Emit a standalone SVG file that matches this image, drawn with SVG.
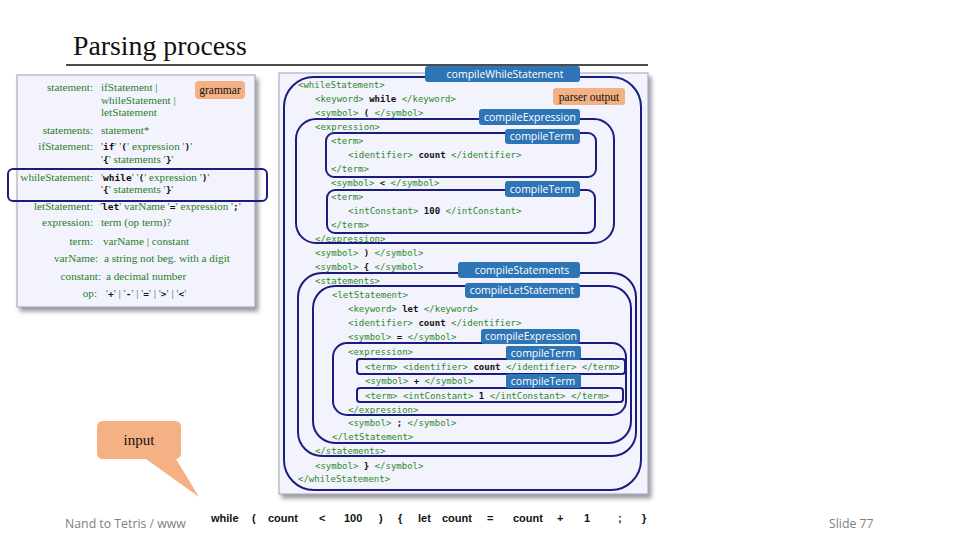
<svg xmlns="http://www.w3.org/2000/svg" width="960" height="540" viewBox="0 0 960 540">
<defs>
<filter id="sh" x="-5%" y="-5%" width="115%" height="115%">
<feDropShadow dx="3" dy="4" stdDeviation="2" flood-color="#555566" flood-opacity="0.6"/>
</filter>
</defs>
<style>
.panel{fill:#f3f3fd;stroke:#a0a0b8;stroke-width:1}
.g{font-family:"Liberation Serif",serif;font-size:11.2px;fill:#2b7d2b}
.gl{text-anchor:end}
.m{font-family:"DejaVu Sans Mono",monospace;font-weight:bold;fill:#111;font-size:9.5px}
.x{font-family:"DejaVu Sans Mono",monospace;font-size:9px;fill:#2a8a2a}
.v{fill:#111;font-weight:bold}
.box{fill:none;stroke:#1c1c80;stroke-width:2}
.lbl rect{fill:#2e75b6}
.lbl text{font-family:"Open Sans",sans-serif;font-size:10.5px;fill:#fff;text-anchor:middle}
.tag rect{fill:#f4b183}
.tag text{font-family:"Liberation Serif",serif;font-size:11.5px;fill:#111;text-anchor:middle}
.in{font-family:"Liberation Sans",sans-serif;font-weight:bold;font-size:11px;fill:#111}
.ft{font-family:"Open Sans",sans-serif;font-size:12.3px;fill:#808080}
</style>
<rect width="960" height="540" fill="#fff"/>

<g id="title">
<text x="73" y="55" font-family="Liberation Serif" font-size="27.8" fill="#111">Parsing process</text>
<line x1="66" y1="65" x2="648" y2="65" stroke="#111" stroke-width="1.3"/>
</g>

<g id="footer">
<text class="ft" x="65" y="528">Nand to Tetris / www</text>
<text class="ft" x="829" y="528">Slide 77</text>
</g>

<g id="grammar">
<rect class="panel" x="17" y="75" width="238" height="232" filter="url(#sh)"/>
<g class="g">
<text class="gl" x="93" y="91">statement:</text>
<text x="101" y="91">ifStatement |</text>
<text x="101" y="104">whileStatement |</text>
<text x="101" y="116">letStatement</text>
<text class="gl" x="93" y="134">statements:</text>
<text x="101" y="134">statement*</text>
<text class="gl" x="93" y="150">ifStatement:</text>
<text x="101" y="150">'<tspan class="m">if</tspan>'  '<tspan class="m">(</tspan>' expression '<tspan class="m">)</tspan>'</text>
<text x="101" y="163">'<tspan class="m">{</tspan>' statements '<tspan class="m">}</tspan>'</text>
<text class="gl" x="93" y="181">whileStatement:</text>
<text x="101" y="181">'<tspan class="m">while</tspan>'  '<tspan class="m">(</tspan>' expression '<tspan class="m">)</tspan>'</text>
<text x="101" y="193">'<tspan class="m">{</tspan>' statements '<tspan class="m">}</tspan>'</text>
<text class="gl" x="93" y="210">letStatement:</text>
<text x="100" y="210">'<tspan class="m">let</tspan>'  varName '<tspan class="m">=</tspan>'  expression '<tspan class="m">;</tspan>'</text>
<text class="gl" x="93" y="226">expression:</text>
<text x="101" y="226">term (op term)?</text>
<text class="gl" x="93" y="245">term:</text>
<text x="103" y="245">varName | constant</text>
<text class="gl" x="98" y="262">varName:</text>
<text x="104" y="262">a string not beg. with a digit</text>
<text class="gl" x="101" y="280">constant:</text>
<text x="106" y="280">a decimal number</text>
<text class="gl" x="97" y="297">op:</text>
<text x="106" y="297">'<tspan class="m">+</tspan>' | '<tspan class="m">-</tspan>' | '<tspan class="m">=</tspan>' | '<tspan class="m">&gt;</tspan>' | '<tspan class="m">&lt;</tspan>'</text>
</g>
<g class="tag"><rect x="195" y="81" width="50" height="18" rx="4"/><text x="220" y="94">grammar</text></g>
<rect x="8" y="169" width="259" height="32" rx="5" class="box"/>
</g>

<g id="parser-output">
<rect class="panel" x="279" y="73" width="369" height="421" filter="url(#sh)"/>
<g class="tag"><rect x="553" y="88" width="72" height="17" rx="3"/><text x="589" y="100.5">parser output</text></g>
<g class="x">
<text x="298" y="88">&lt;whileStatement&gt;</text>
<text x="315" y="102">&lt;keyword&gt; <tspan class="v">while</tspan> &lt;/keyword&gt;</text>
<text x="315" y="116">&lt;symbol&gt; <tspan class="v">(</tspan> &lt;/symbol&gt;</text>
<text x="315" y="130">&lt;expression&gt;</text>
<text x="331" y="144">&lt;term&gt;</text>
<text x="348" y="158">&lt;identifier&gt; <tspan class="v">count</tspan> &lt;/identifier&gt;</text>
<text x="331" y="172">&lt;/term&gt;</text>
<text x="331" y="186">&lt;symbol&gt; <tspan class="v">&lt;</tspan> &lt;/symbol&gt;</text>
<text x="331" y="200">&lt;term&gt;</text>
<text x="348" y="214">&lt;intConstant&gt; <tspan class="v">100</tspan> &lt;/intConstant&gt;</text>
<text x="331" y="228">&lt;/term&gt;</text>
<text x="315" y="242">&lt;/expression&gt;</text>
<text x="315" y="256">&lt;symbol&gt; <tspan class="v">)</tspan> &lt;/symbol&gt;</text>
<text x="315" y="270">&lt;symbol&gt; <tspan class="v">{</tspan> &lt;/symbol&gt;</text>
<text x="315" y="284">&lt;statements&gt;</text>
<text x="332" y="298">&lt;letStatement&gt;</text>
<text x="348" y="312">&lt;keyword&gt; <tspan class="v">let</tspan> &lt;/keyword&gt;</text>
<text x="348" y="326">&lt;identifier&gt; <tspan class="v">count</tspan> &lt;/identifier&gt;</text>
<text x="348" y="340">&lt;symbol&gt; <tspan class="v">=</tspan> &lt;/symbol&gt;</text>
<text x="348" y="355">&lt;expression&gt;</text>
<text x="365" y="370">&lt;term&gt; &lt;identifier&gt; <tspan class="v">count</tspan> &lt;/identifier&gt; &lt;/term&gt;</text>
<text x="365" y="384">&lt;symbol&gt; <tspan class="v">+</tspan> &lt;/symbol&gt;</text>
<text x="365" y="399">&lt;term&gt; &lt;intConstant&gt; <tspan class="v">1</tspan> &lt;/intConstant&gt; &lt;/term&gt;</text>
<text x="348" y="413">&lt;/expression&gt;</text>
<text x="348" y="426">&lt;symbol&gt; <tspan class="v">;</tspan> &lt;/symbol&gt;</text>
<text x="332" y="440">&lt;/letStatement&gt;</text>
<text x="315" y="454">&lt;/statements&gt;</text>
<text x="315" y="469">&lt;symbol&gt; <tspan class="v">}</tspan> &lt;/symbol&gt;</text>
<text x="298" y="482">&lt;/whileStatement&gt;</text>
</g>
</g>

<g id="scope-compileWhileStatement"><rect class="box" x="284" y="77" width="357" height="413" rx="30"/></g>
<g id="scope-compileExpression-1"><rect class="box" x="296" y="119" width="318" height="124" rx="20"/></g>
<g id="scope-compileTerm-1"><rect class="box" x="326" y="133" width="270" height="44" rx="8"/></g>
<g id="scope-compileTerm-2"><rect class="box" x="327" y="190" width="268" height="43" rx="8"/></g>
<g id="scope-compileStatements"><rect class="box" x="298" y="273" width="338" height="183" rx="24"/></g>
<g id="scope-compileLetStatement"><rect class="box" x="313" y="286" width="318" height="157" rx="22"/></g>
<g id="scope-compileExpression-2"><rect class="box" x="333" y="343" width="293" height="72" rx="14"/></g>
<g id="scope-compileTerm-3"><rect class="box" x="357" y="359" width="268" height="15" rx="3"/></g>
<g id="scope-compileTerm-4"><rect class="box" x="357" y="388" width="266" height="14" rx="3"/></g>

<g id="label-compileWhileStatement" class="lbl"><rect x="425" y="66" width="155" height="16" rx="3"/><text x="505" y="77.5">compileWhileStatement</text></g>
<g id="label-compileExpression-1" class="lbl"><rect x="479" y="109" width="101" height="16" rx="3"/><text x="530" y="120.5">compileExpression</text></g>
<g id="label-compileTerm-1" class="lbl"><rect x="505" y="129" width="75" height="15" rx="3"/><text x="542" y="140">compileTerm</text></g>
<g id="label-compileTerm-2" class="lbl"><rect x="505" y="181" width="75" height="16" rx="3"/><text x="542" y="192.5">compileTerm</text></g>
<g id="label-compileStatements" class="lbl"><rect x="458" y="262" width="122" height="16" rx="3"/><text x="522" y="273.5">compileStatements</text></g>
<g id="label-compileLetStatement" class="lbl"><rect x="465" y="283" width="115" height="15" rx="3"/><text x="522" y="294">compileLetStatement</text></g>
<g id="label-compileExpression-2" class="lbl"><rect x="481" y="329" width="99" height="15" rx="3"/><text x="531" y="340">compileExpression</text></g>
<g id="label-compileTerm-3" class="lbl"><rect x="506" y="346" width="75" height="14" rx="2"/><text x="543" y="356.5">compileTerm</text></g>
<g id="label-compileTerm-4" class="lbl"><rect x="506" y="374" width="75" height="14" rx="2"/><text x="543" y="384.5">compileTerm</text></g>

<g id="connectors"></g>

<g id="input-callout">
<path d="M103,421 H175 Q181,421 181,427 V453 Q181,459 175,459 H176 L199,497 L146,459 H103 Q97,459 97,453 V427 Q97,421 103,421 Z" fill="#f4b183"/>
<text x="139" y="445" font-family="Liberation Serif" font-size="15" fill="#111" text-anchor="middle">input</text>
</g>

<g id="input-text">
<rect x="196" y="504" width="466" height="30" fill="#fff"/>
<g class="in">
<text x="211" y="522">while</text>
<text x="252" y="522">(</text>
<text x="268" y="522">count</text>
<text x="319" y="522">&lt;</text>
<text x="344" y="522">100</text>
<text x="379" y="522">)</text>
<text x="398" y="522">{</text>
<text x="418" y="522">let</text>
<text x="442" y="522">count</text>
<text x="487" y="522">=</text>
<text x="513" y="522">count</text>
<text x="557" y="522">+</text>
<text x="584" y="522">1</text>
<text x="618" y="522">;</text>
<text x="642" y="522">}</text>
</g>
</g>
</svg>
